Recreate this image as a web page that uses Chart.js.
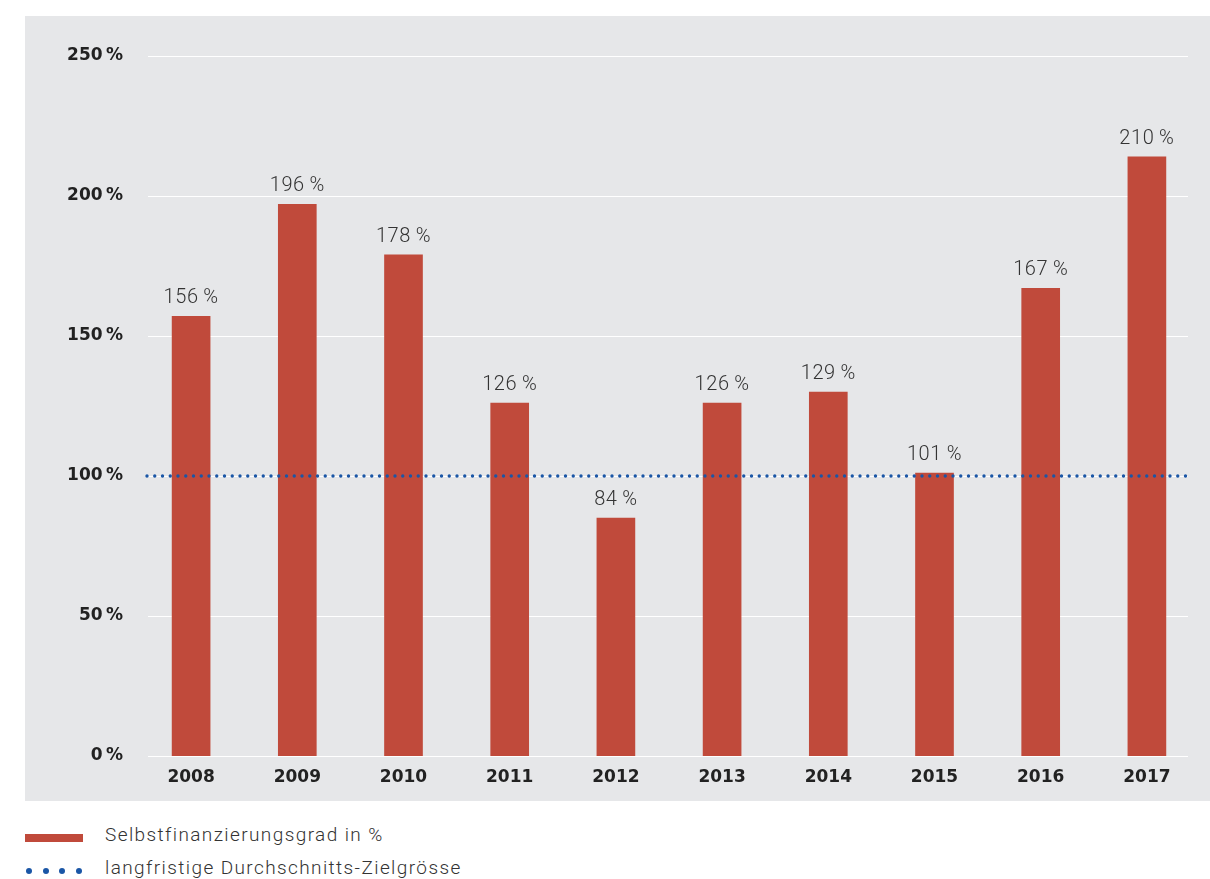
<!DOCTYPE html>
<html>
<head>
<meta charset="utf-8">
<script src="https://cdn.jsdelivr.net/npm/chart.js@4/dist/chart.umd.min.js"></script>
<style>
  body { margin: 0; background: #fff; width: 1210px; height: 879px; position: relative; overflow: hidden; }
  #panel { position: absolute; left: 25px; top: 16px; width: 1185px; height: 785px; background: #e6e7e9; }
  #legend { position: absolute; left: 25px; top: 820px; width: 800px; font-family: Roboto, "Liberation Sans", sans-serif; font-weight: 300; font-size: 19px; color: #333; }
  .row { position: relative; height: 33px; }
  .swatch { position: absolute; left: 0; top: 14px; width: 58px; height: 8px; background: #c04a3b; }
  .dots { position: absolute; left: 1px; top: 48px; width: 70px; white-space: nowrap; }
  .dots span { display: inline-block; width: 6px; height: 6px; border-radius: 50%; background: #1a56a6; margin-right: 10.5px; vertical-align: top; }
  .txt { position: absolute; left: 80px; top: 3px; white-space: nowrap; letter-spacing: 1.4px; }
</style>
</head>
<body>
<div id="panel"><canvas id="myChart" width="1185" height="785"></canvas></div>
<div id="legend">
  <div class="row"><div class="swatch"></div><div class="txt">Selbstfinanzierungsgrad in %</div></div>
  <div class="row"><div class="txt">langfristige Durchschnitts-Zielgrösse</div></div>
  <div class="dots"><span></span><span></span><span></span><span></span></div>
</div>
<script>
// data
var years = ["2008", "2009", "2010", "2011", "2012", "2013", "2014", "2015", "2016", "2017"];
var barValues = [157, 197, 179, 126, 85, 126, 130, 101, 167, 214];
var labelValues = [156, 196, 178, 126, 84, 126, 129, 101, 167, 210];
var targetValue = 100;
var yTicks = [0, 50, 100, 150, 200, 250];

var barColour = "#c04a3b";
var dotColour = "#1a56a6";
var tickFont = { family: "'DejaVu Sans', 'Liberation Sans', sans-serif", weight: "bold", size: 17 };

// white grid lines + dotted target line
var gridPlugin = {
    id: "gridPlugin",
    beforeDatasetsDraw: function(chart) {
        var ctx = chart.ctx;
        var area = chart.chartArea;
        var y = chart.scales.y;
        ctx.save();
        ctx.strokeStyle = "#ffffff";
        ctx.lineWidth = 1.2;
        for (var i = 0; i < yTicks.length; i++) {
            var py = Math.round(y.getPixelForValue(yTicks[i])) + 0.5;
            ctx.beginPath();
            ctx.moveTo(area.left + 10, py);
            ctx.lineTo(area.right - 12, py);
            ctx.stroke();
        }
        ctx.restore();
    },
    afterDatasetsDraw: function(chart) {
        var ctx = chart.ctx;
        var area = chart.chartArea;
        var y = chart.scales.y;
        var py = y.getPixelForValue(targetValue);
        ctx.save();
        ctx.strokeStyle = dotColour;
        ctx.lineWidth = 3.4;
        ctx.lineCap = "round";
        ctx.setLineDash([0, 7.75]);
        ctx.beginPath();
        ctx.moveTo(area.left + 9, py);
        ctx.lineTo(area.right - 10, py);
        ctx.stroke();
        ctx.restore();

        // value labels above bars
        var meta = chart.getDatasetMeta(0);
        ctx.save();
        ctx.fillStyle = "#333";
        ctx.font = "300 20px Roboto, 'Liberation Sans', sans-serif";
        ctx.letterSpacing = "0.6px";
        ctx.textAlign = "center";
        ctx.textBaseline = "alphabetic";
        for (var j = 0; j < meta.data.length; j++) {
            var bar = meta.data[j];
            ctx.fillText(labelValues[j] + "\u2009%", bar.x, bar.y - 13);
        }
        ctx.restore();
    }
};

var ctx = document.getElementById("myChart");
var myChart = new Chart(ctx, {
    type: "bar",
    data: {
        labels: years,
        datasets: [{
            label: "Selbstfinanzierungsgrad in %",
            data: barValues,
            backgroundColor: barColour,
            barThickness: 38
        }]
    },
    options: {
        responsive: false,
        animation: false,
        layout: { padding: { top: 40, right: 10, left: 0, bottom: 0 } },
        plugins: { legend: { display: false }, tooltip: { enabled: false } },
        scales: {
            x: {
                grid: { display: false, drawTicks: false },
                border: { display: false },
                ticks: { padding: 11, color: "#222", font: tickFont },
                afterFit: function(scale) { scale.height = 45; }
            },
            y: {
                min: 0,
                max: 250,
                grid: { display: false, drawTicks: false },
                border: { display: false },
                ticks: {
                    stepSize: 50,
                    padding: 15,
                    color: "#222",
                    font: tickFont,
                    callback: function(v) { return v + "\u2009%"; }
                },
                afterFit: function(scale) { scale.width = 113; }
            }
        }
    },
    plugins: [gridPlugin]
});
</script>
</body>
</html>
